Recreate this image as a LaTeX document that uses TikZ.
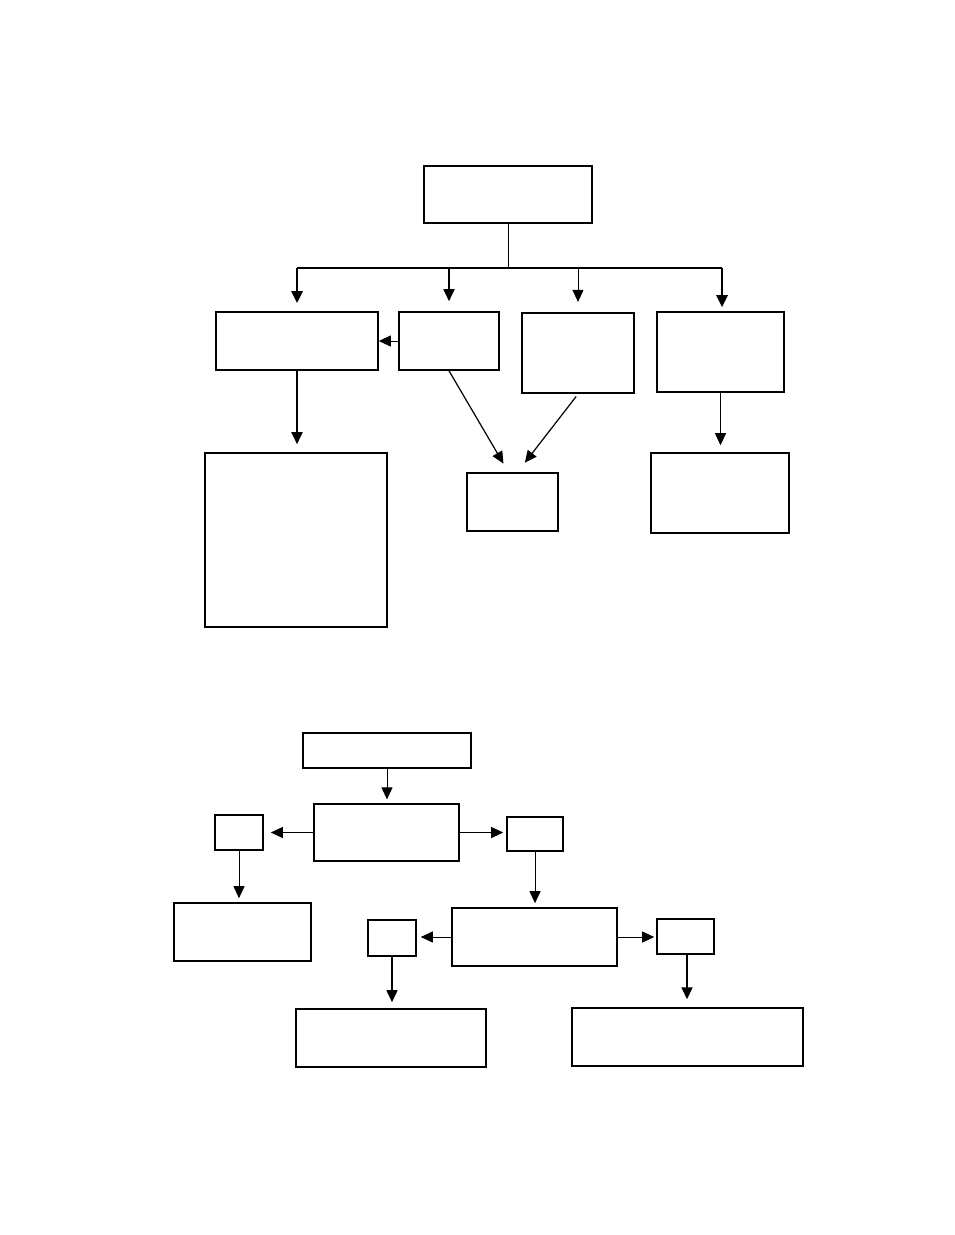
\documentclass[tikz,border=0pt]{standalone}
\usetikzlibrary{arrows.meta}
\begin{document}
\begin{tikzpicture}[x=1pt, y=-1pt]
        % Define styles
        \tikzstyle{box}=[rectangle, draw, line width=1.6pt, inner sep=0pt]
        \tikzstyle{thin}=[line width=0.9pt]
        \tikzstyle{arrow}=[-{Triangle[length=12pt, width=11pt]}, line width=0.9pt]
        \tikzstyle{thickarrow}=[-{Triangle[length=12pt, width=11pt]}, line width=2.6pt]

        \useasboundingbox (0,0) rectangle (954,1235);

        % Upper chart
        \node[box, minimum width=168pt, minimum height=57pt] (top) at (508,194.5) {};
        \node[box, minimum width=162pt, minimum height=58pt] (left) at (297,341) {};
        \node[box, minimum width=100pt, minimum height=58pt] (mid) at (449,341) {};
        \node[box, line width=2.2pt, minimum width=112pt, minimum height=80pt] (centre) at (578,353) {};
        \node[box, minimum width=127pt, minimum height=80pt] (right) at (720.5,352) {};
        \node[box, minimum width=182pt, minimum height=174pt] (tall) at (296,540) {};
        \node[box, minimum width=91pt, minimum height=58pt] (small) at (512.5,502) {};
        \node[box, minimum width=138pt, minimum height=80pt] (under) at (720,493) {};

        \coordinate (bar) at (508,268);

        % Branches from the top box
        \draw[thin] (top.south) -- (top.south |- bar);
        \draw[line width=2.8pt] (left.north |- bar) -- (722,268);
        \draw[thickarrow, shorten >=8pt] (left.north |- bar) -- (left.north);
        \draw[thickarrow, line width=1.8pt, shorten >=10pt] (mid.north |- bar) -- (mid.north);
        \draw[arrow, shorten >=10pt] (centre.north |- bar) -- (centre.north);
        \draw[thickarrow, shorten >=4pt] (722,268) -- ([xshift=1.5pt]right.north);

        % Lower arrows
        \draw[arrow] (mid.west) -- (left.east);
        \draw[thickarrow, line width=1.8pt, shorten >=8pt] (left.south) -- (left.south |- tall.north);
        \draw[arrow, line width=1.2pt, shorten >=10pt] (mid.south) -- ([xshift=-4pt]small.north);
        \draw[arrow, line width=1.2pt, shorten <=3pt, shorten >=12pt] (centre.south) -- ([xshift=5pt]small.north);
        \draw[arrow, shorten >=7pt] (right.south) -- (right.south |- under.north);

        % Lower chart
        \node[box, minimum width=168pt, minimum height=35pt] (head) at (387,750.5) {};
        \node[box, line width=1.3pt, minimum width=145pt, minimum height=57pt] (hub) at (386.5,832.5) {};
        \node[box, minimum width=48pt, minimum height=35pt] (lefttag) at (239,832.5) {};
        \node[box, minimum width=56pt, minimum height=34pt] (righttag) at (535,834) {};
        \node[box, minimum width=137pt, minimum height=58pt] (leftend) at (242.5,932) {};
        \node[box, minimum width=165pt, minimum height=58pt] (subhub) at (534.5,937) {};
        \node[box, minimum width=48pt, minimum height=36pt] (subleft) at (392,938) {};
        \node[box, minimum width=57pt, minimum height=35pt] (subright) at (685.5,936.5) {};
        \node[box, minimum width=190pt, minimum height=58pt] (bottomleft) at (391,1038) {};
        \node[box, line width=1.4pt, minimum width=231pt, minimum height=58pt] (bottomright) at (687.5,1037) {};

        \draw[arrow, shorten >=4pt] (head.south) -- (head.south |- hub.north);
        \draw[arrow, shorten >=7pt] (hub.west) -- (hub.west -| lefttag.east);
        \draw[arrow, shorten >=3pt] (hub.east) -- (hub.east -| righttag.west);
        \draw[arrow, shorten >=4pt] (lefttag.south) -- (lefttag.south |- leftend.north);
        \draw[arrow, shorten >=5pt] (righttag.south) -- ([yshift=-1pt]righttag.south |- subhub.north);
        \draw[arrow, shorten >=4pt] (subhub.west) -- (subhub.west -| subleft.east);
        \draw[arrow, shorten >=2pt] (subhub.east) -- (subhub.east -| subright.west);
        \draw[arrow, line width=1.6pt, shorten >=6pt] (subleft.south) -- (subleft.south |- bottomleft.north);
        \draw[arrow, line width=1.6pt, shorten >=8pt] ([xshift=1.5pt]subright.south) -- ([xshift=1.5pt]subright.south |- bottomright.north);
\end{tikzpicture}
\end{document}
